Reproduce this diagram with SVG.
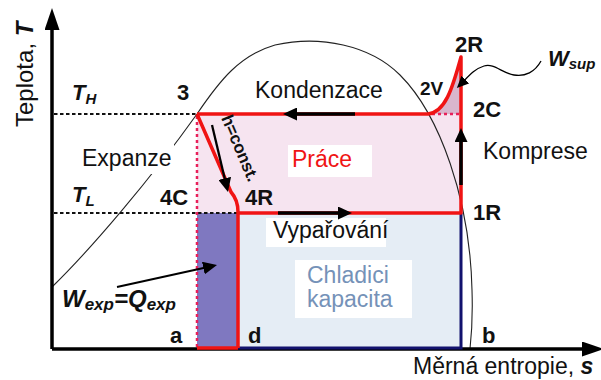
<svg xmlns="http://www.w3.org/2000/svg" width="601" height="380" viewBox="0 0 601 380">
<defs>
<style>
text{font-family:"Liberation Sans",Arial,sans-serif;}
.lbl{font-size:23px;fill:#111;}
.pt{font-size:22px;font-weight:bold;fill:#111;}
.bi{font-weight:bold;font-style:italic;fill:#111;}
.red{stroke:#f01414;stroke-width:3.5;fill:none;stroke-linejoin:round;}
.navy{stroke:#12126e;stroke-width:3;fill:none;}
.dash{stroke:#111;stroke-width:2;stroke-dasharray:3.5 2.5;fill:none;}
.dot{stroke:#e8205a;stroke-width:2.5;stroke-dasharray:3 3;fill:none;}
.arr{stroke:#000;fill:none;}
.box{fill:#fff;}
</style>
<marker id="ah" viewBox="0 0 14 13" markerWidth="14" markerHeight="13" refX="6" refY="6.5" orient="auto" markerUnits="userSpaceOnUse">
<path d="M0,0 L14,6.5 L0,13 z" fill="#000"/>
</marker>
<marker id="ahs" viewBox="0 0 12 11" markerWidth="12" markerHeight="11" refX="9" refY="5.5" orient="auto" markerUnits="userSpaceOnUse">
<path d="M0,0 L12,5.5 L0,11 z" fill="#000"/>
</marker>
<marker id="axh" viewBox="0 0 22 15" markerWidth="22" markerHeight="15" refX="8" refY="7.5" orient="auto" markerUnits="userSpaceOnUse">
<path d="M0,0 L22,7.5 L0,15 z" fill="#000"/>
</marker>
</defs>

<g id="areas">
<rect id="prace-area" x="197" y="114" width="264" height="99" fill="#f6e4f0"/>
<path id="wsup-area" d="M428,114 C445,112 452,90 461,57 L461,114 Z" fill="#d9b6cd"/>
<rect id="chlad-area" x="238" y="213" width="223" height="135" fill="#e5edf5"/>
<rect id="wexp-area" x="197" y="213" width="41" height="135" fill="#7f78c0"/>
</g>

<g id="dome">
<path d="M52,287 C90,250 150,180 197,114 C220,80 240,55 275,45 C320,35 370,45 400,75 C440,115 470,200 472,290 C473,320 471,340 470,349" stroke="#222" stroke-width="1.1" fill="none"/>
</g>

<g id="label-boxes">
<rect class="box" x="78" y="143" width="96" height="31"/>
<rect class="box" x="288" y="145" width="84" height="32"/>
<rect class="box" x="266" y="218" width="120" height="29"/>
<rect class="box" x="295" y="260" width="117" height="58"/>
</g>

<g id="axes">
<line x1="52" y1="349" x2="52" y2="22" stroke="#000" stroke-width="3.5" marker-end="url(#axh)"/>
<line x1="52" y1="349" x2="590" y2="349" stroke="#000" stroke-width="3.5" marker-end="url(#axh)"/>
</g>

<g id="connectors">
<line class="dash" x1="54" y1="114" x2="197" y2="114"/>
<line class="dash" x1="54" y1="213" x2="238" y2="213"/>
<line class="dot" x1="197" y1="116" x2="197" y2="348"/>
<line class="dot" x1="432" y1="114" x2="461" y2="114" stroke-dasharray="4 4"/>
<path class="navy" d="M238,348 L461,348 L461,213"/>
<path class="red" d="M197,114 L428,114 C445,112 452,90 461,57 L461,213 L238,213"/>
<path class="red" d="M238,348 L238,212 Q238,200 231,192 L197,114"/>
<line class="red" x1="197" y1="348" x2="238" y2="348"/>
<line class="arr" x1="355" y1="114" x2="291" y2="114" stroke-width="3.5" marker-end="url(#ah)"/>
<line class="arr" x1="278" y1="213" x2="344" y2="213" stroke-width="3.5" marker-end="url(#ah)"/>
<line class="arr" x1="461" y1="185" x2="461" y2="136" stroke-width="3.5" marker-end="url(#ah)"/>
<line class="arr" x1="212" y1="125" x2="226.1" y2="184.2" stroke-width="2.3" marker-end="url(#ah)"/>
<line class="arr" x1="117" y1="287" x2="209.2" y2="266.7" stroke-width="2" marker-end="url(#ah)"/>
<path class="arr" d="M541,61 C535,72 525,77 514,75 C502,73 494,63 484,66 C474,69 468,77 459,86" stroke-width="1.3" marker-end="url(#ahs)"/>
</g>

<g id="hconst"><text class="pt" font-size="17" style="font-size:17px" transform="translate(221,118) rotate(67)">h=const.</text></g>

<g id="node-3"><text class="pt" x="177" y="100">3</text></g>
<g id="node-4C"><text class="pt" x="160" y="205">4C</text></g>
<g id="node-4R"><text class="pt" x="245" y="205">4R</text></g>
<g id="node-1R"><text class="pt" x="473" y="220">1R</text></g>
<g id="node-2R"><text class="pt" x="455" y="52">2R</text></g>
<g id="node-2C"><text class="pt" x="473" y="117">2C</text></g>
<g id="node-2V"><text class="pt" x="420" y="95" font-size="19" style="font-size:19px">2V</text></g>
<g id="node-a"><text class="pt" x="170" y="343">a</text></g>
<g id="node-d"><text class="pt" x="248" y="343">d</text></g>
<g id="node-b"><text class="pt" x="482" y="343">b</text></g>

<g id="TH"><text class="bi" x="72" y="100" font-size="22">T<tspan font-size="15" dy="4">H</tspan></text></g>
<g id="TL"><text class="bi" x="72" y="202" font-size="22">T<tspan font-size="15" dy="4">L</tspan></text></g>
<g id="Wsup"><text class="bi" x="548" y="66" font-size="22">W<tspan font-size="15" dy="3">sup</tspan></text></g>
<g id="Wexp"><text class="bi" x="62" y="307" font-size="24">W<tspan font-size="17" dy="3">exp</tspan><tspan dy="-3">=Q</tspan><tspan font-size="17" dy="3">exp</tspan></text></g>

<g id="process-labels">
<text class="lbl" x="255" y="98">Kondenzace</text>
<text class="lbl" x="82" y="166">Expanze</text>
<text class="lbl" x="483" y="159">Komprese</text>
<text class="lbl" x="292" y="167" style="fill:#f01414">Práce</text>
<text class="lbl" x="273" y="238">Vypařování</text>
<text class="lbl" x="307" y="283" style="fill:#7592b8">Chladici</text>
<text class="lbl" x="307" y="307" style="fill:#7592b8">kapacita</text>
</g>

<g id="axis-labels">
<text class="lbl" x="413" y="374">Měrná entropie, <tspan class="bi">s</tspan></text>
<text class="lbl" style="font-size:24px" transform="translate(33,127) rotate(-90)">Teplota, <tspan class="bi">T</tspan></text>
</g>
</svg>
